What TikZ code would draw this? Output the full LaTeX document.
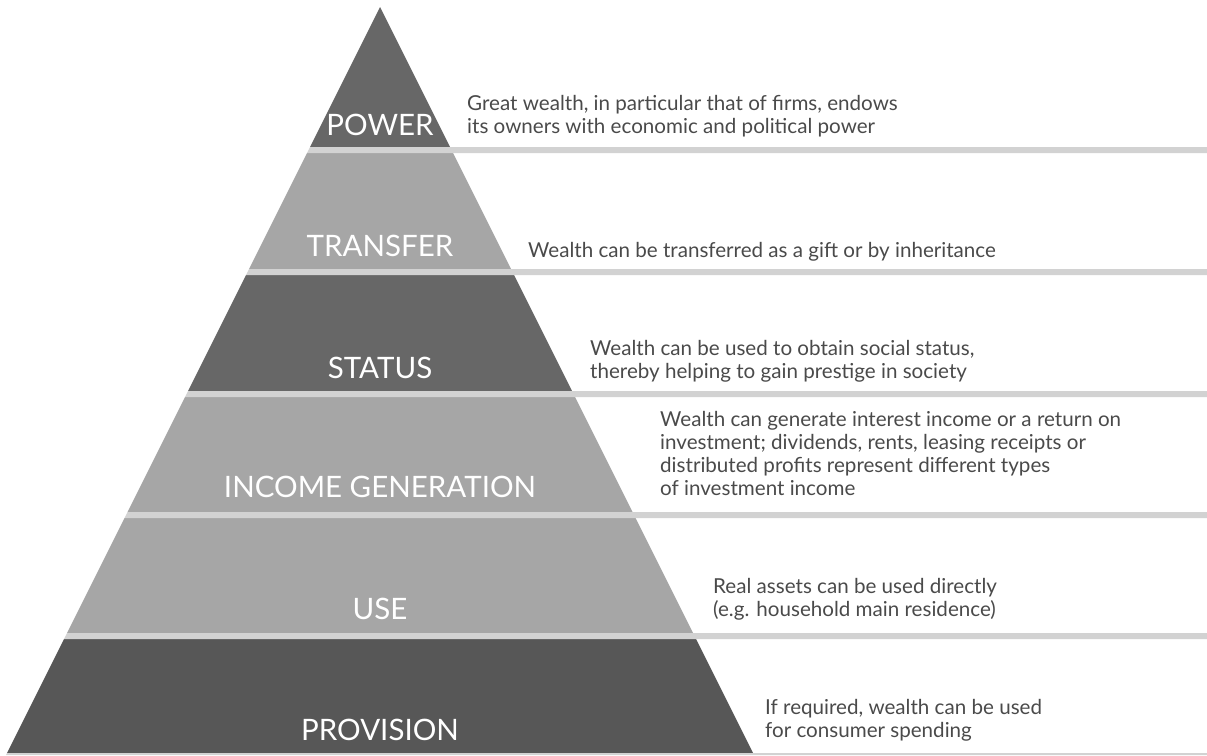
\documentclass[tikz,border=0pt]{standalone}
\usepackage{fontspec}
\setmainfont{Lato}
\definecolor{darkband}{HTML}{676767}
\definecolor{lightband}{HTML}{A6A6A6}
\definecolor{baseband}{HTML}{575757}
\definecolor{sepgray}{HTML}{D2D2D2}
\definecolor{desctext}{HTML}{4A4A4A}
\begin{document}
\begin{tikzpicture}[x=1pt,y=-1pt]
    \tikzstyle{level}=[white, font=\fontsize{29.5}{31}\selectfont, anchor=base, inner sep=0pt]
    \tikzstyle{descr}=[desctext, font=\fontsize{20.6}{23}\selectfont, align=left, anchor=base west, inner sep=0pt]
    \useasboundingbox (0,0) rectangle (1207,755);
    % pyramid bands, edge half width = (y-7)/2
    \fill[darkband] (380,7) -- (450,147) -- (310,147) -- cycle;
    \foreach \ya/\yb/\col in {153/269/lightband, 275/391/darkband, 397/512/lightband, 518/633/lightband, 639/753/baseband}
      \fill[\col] ({380-0.5*(\ya-7)},\ya) -- ({380+0.5*(\ya-7)},\ya) -- ({380+0.5*(\yb-7)},\yb) -- ({380-0.5*(\yb-7)},\yb) -- cycle;
    % separator lines
    \foreach \ys/\h in {147/6, 269/6, 391/6, 512/6, 633/6, 753/2}
      \fill[sepgray] ({380-0.5*(\ys-7)},\ys) -- (1207,\ys) -- (1207,{\ys+\h}) -- ({380-0.5*(\ys+\h-7)},{\ys+\h}) -- cycle;
    \node[level] (power) at (380,135) {POWER};
    \node[level] (transfer) at (380,256) {TRANSFER};
    \node[level] (status) at (380,378) {STATUS};
    \node[level] (income) at (380,497) {INCOME GENERATION};
    \node[level] (use) at (380,619) {USE};
    \node[level] (provision) at (380,740) {PROVISION};
    \node[descr] (power-d) at (467,133) {Great wealth, in particular that of firms, endows\\its owners with economic and political power};
    \node[descr] (transfer-d) at (528,257) {Wealth can be transferred as a gift or by inheritance};
    \node[descr] (status-d) at (590,378) {Wealth can be used to obtain social status,\\thereby helping to gain prestige in society};
    \node[descr] (income-d) at (660,495) {Wealth can generate interest income or a return on\\investment; dividends, rents, leasing receipts or\\distributed profits represent different types\\of investment income};
    \node[descr] (use-d) at (713,616) {Real assets can be used directly\\(e.g. household main residence)};
    \node[descr] (provision-d) at (765,737) {If required, wealth can be used\\for consumer spending};
    %\draw (power) -- (power-d);
\end{tikzpicture}
\end{document}
